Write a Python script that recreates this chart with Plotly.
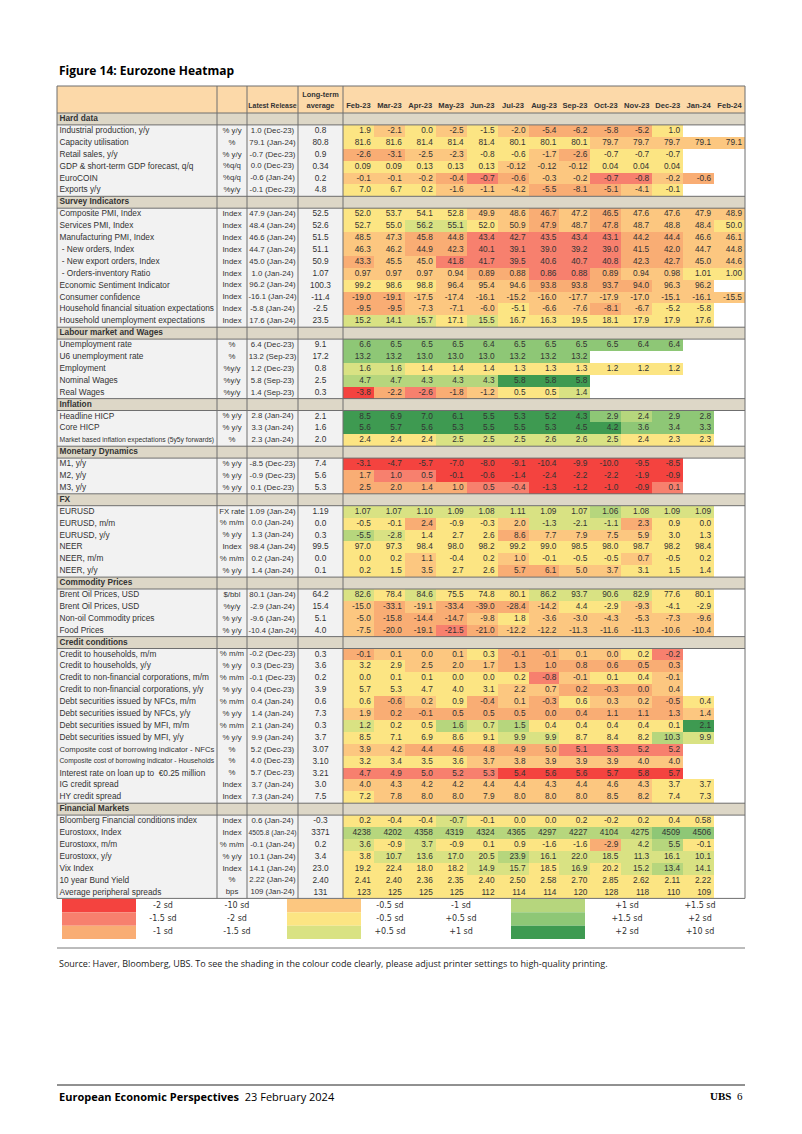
import plotly.graph_objects as go

# ---------------- DATA ----------------
months = ["Feb-23", "Mar-23", "Apr-23", "May-23", "Jun-23", "Jul-23", "Aug-23",
          "Sep-23", "Oct-23", "Nov-23", "Dec-23", "Jan-24", "Feb-24"]

sections = ["Hard data", "Survey Indicators", "Labour market and Wages", "Inflation",
            "Monetary Dynamics", "FX", "Commodity Prices", "Credit conditions", "Financial Markets"]
section_sizes = [6, 10, 5, 3, 3, 6, 4, 13, 7]

row_labels = [
    "Industrial production, y/y", "Capacity utilisation", "Retail sales, y/y",
    "GDP & short-term GDP forecast, q/q", "EuroCOIN", "Exports y/y",
    "Composite PMI, Index", "Services PMI, Index", "Manufacturing PMI, Index",
    " - New orders, Index", " - New export orders, Index", " - Orders-inventory Ratio",
    "Economic Sentiment Indicator", "Consumer confidence",
    "Household financial situation expectations", "Household unemployment expectations",
    "Unemployment rate", "U6 unemployment rate", "Employment", "Nominal Wages", "Real Wages",
    "Headline HICP", "Core HICP", "Market based inflation expectations (5y5y forwards)",
    "M1, y/y", "M2, y/y", "M3, y/y",
    "EURUSD", "EURUSD, m/m", "EURUSD, y/y", "NEER", "NEER, m/m", "NEER, y/y",
    "Brent Oil Prices, USD", "Brent Oil Prices, USD", "Non-oil Commodity prices", "Food Prices",
    "Credit to households, m/m", "Credit to households, y/y",
    "Credit to non-financial corporations, m/m", "Credit to non-financial corporations, y/y",
    "Debt securities issued by NFCs, m/m", "Debt securities issued by NFCs, y/y",
    "Debt securities issued by MFI, m/m", "Debt securities issued by MFI, y/y",
    "Composite cost of borrowing indicator - NFCs",
    "Composite cost of borrowing indicator - Households",
    "Interest rate on loan up to  €0.25 million", "IG credit spread", "HY credit spread",
    "Bloomberg Financial conditions index", "Eurostoxx, Index", "Eurostoxx, m/m",
    "Eurostoxx, y/y", "Vix Index", "10 year Bund Yield", "Average peripheral spreads",
]

units = [
    "% y/y", "%", "% y/y", "%q/q", "%q/q", "%y/y",
    "Index", "Index", "Index", "Index", "Index", "Index", "Index", "Index", "Index", "Index",
    "%", "%", "%y/y", "%y/y", "%y/y",
    "% y/y", "% y/y", "%",
    "% y/y", "% y/y", "% y/y",
    "FX rate", "% m/m", "% y/y", "Index", "% m/m", "% y/y",
    "$/bbl", "%y/y", "% y/y", "% y/y",
    "% m/m", "% y/y", "% m/m", "% y/y", "% m/m", "% y/y", "% m/m", "% y/y",
    "%", "%", "%", "Index", "Index",
    "Index", "Index", "% m/m", "% y/y", "Index", "%", "bps",
]

latest_release = [
    "1.0 (Dec-23)", "79.1 (Jan-24)", "-0.7 (Dec-23)", "0.0 (Dec-23)", "-0.6 (Jan-24)", "-0.1 (Dec-23)",
    "47.9 (Jan-24)", "48.4 (Jan-24)", "46.6 (Jan-24)", "44.7 (Jan-24)", "45.0 (Jan-24)", "1.0 (Jan-24)",
    "96.2 (Jan-24)", "-16.1 (Jan-24)", "-5.8 (Jan-24)", "17.6 (Jan-24)",
    "6.4 (Dec-23)", "13.2 (Sep-23)", "1.2 (Dec-23)", "5.8 (Sep-23)", "1.4 (Sep-23)",
    "2.8 (Jan-24)", "3.3 (Jan-24)", "2.3 (Jan-24)",
    "-8.5 (Dec-23)", "-0.9 (Dec-23)", "0.1 (Dec-23)",
    "1.09 (Jan-24)", "0.0 (Jan-24)", "1.3 (Jan-24)", "98.4 (Jan-24)", "0.2 (Jan-24)", "1.4 (Jan-24)",
    "80.1 (Jan-24)", "-2.9 (Jan-24)", "-9.6 (Jan-24)", "-10.4 (Jan-24)",
    "-0.2 (Dec-23)", "0.3 (Dec-23)", "-0.1 (Dec-23)", "0.4 (Dec-23)", "0.4 (Jan-24)", "1.4 (Jan-24)",
    "2.1 (Jan-24)", "9.9 (Jan-24)", "5.2 (Dec-23)", "4.0 (Dec-23)", "5.7 (Dec-23)",
    "3.7 (Jan-24)", "7.3 (Jan-24)",
    "0.6 (Jan-24)", "4505.8 (Jan-24)", "-0.1 (Jan-24)", "10.1 (Jan-24)", "14.1 (Jan-24)",
    "2.22 (Jan-24)", "109 (Jan-24)",
]

long_term_average = [
    "0.8", "80.8", "0.9", "0.34", "0.2", "4.8",
    "52.5", "52.6", "51.5", "51.1", "50.9", "1.07", "100.3", "-11.4", "-2.5", "23.5",
    "9.1", "17.2", "0.8", "2.5", "0.3",
    "2.1", "1.6", "2.0",
    "7.4", "5.6", "5.3",
    "1.19", "0.0", "0.3", "99.5", "0.0", "0.1",
    "64.2", "15.4", "5.1", "4.0",
    "0.3", "3.6", "0.2", "3.9", "0.6", "7.3", "0.3", "3.7", "3.07", "3.10", "3.21", "3.0", "7.5",
    "-0.3", "3371", "0.2", "3.4", "23.0", "2.40", "131",
]

# decimals shown for each data row
decimals = [1, 1, 1, 2, 1, 1,
            1, 1, 1, 1, 1, 2, 1, 1, 1, 1,
            1, 1, 1, 1, 1,
            1, 1, 1,
            1, 1, 1,
            2, 1, 1, 1, 1, 1,
            1, 1, 1, 1,
            1, 1, 1, 1, 1, 1, 1, 1, 1, 1, 1, 1, 1,
            1, 0, 1, 1, 1, 2, 0]

hard_data_values = [
    [1.9, -2.1, 0.0, -2.5, -1.5, -2.0, -5.4, -6.2, -5.8, -5.2, 1.0],
    [81.6, 81.6, 81.4, 81.4, 81.4, 80.1, 80.1, 80.1, 79.7, 79.7, 79.7, 79.1, 79.1],
    [-2.6, -3.1, -2.5, -2.3, -0.8, -0.6, -1.7, -2.6, -0.7, -0.7, -0.7],
    [0.09, 0.09, 0.13, 0.13, 0.13, -0.12, -0.12, -0.12, 0.04, 0.04, 0.04],
    [-0.1, -0.1, -0.2, -0.4, -0.7, -0.6, -0.3, -0.2, -0.7, -0.8, -0.2, -0.6],
    [7.0, 6.7, 0.2, -1.6, -1.1, -4.2, -5.5, -8.1, -5.1, -4.1, -0.1],
]
survey_values = [
    [52.0, 53.7, 54.1, 52.8, 49.9, 48.6, 46.7, 47.2, 46.5, 47.6, 47.6, 47.9, 48.9],
    [52.7, 55.0, 56.2, 55.1, 52.0, 50.9, 47.9, 48.7, 47.8, 48.7, 48.8, 48.4, 50.0],
    [48.5, 47.3, 45.8, 44.8, 43.4, 42.7, 43.5, 43.4, 43.1, 44.2, 44.4, 46.6, 46.1],
    [46.3, 46.2, 44.9, 42.3, 40.1, 39.1, 39.0, 39.2, 39.0, 41.5, 42.0, 44.7, 44.8],
    [43.3, 45.5, 45.0, 41.8, 41.7, 39.5, 40.6, 40.7, 40.8, 42.3, 42.7, 45.0, 44.6],
    [0.97, 0.97, 0.97, 0.94, 0.89, 0.88, 0.86, 0.88, 0.89, 0.94, 0.98, 1.01, 1.00],
    [99.2, 98.6, 98.8, 96.4, 95.4, 94.6, 93.8, 93.8, 93.7, 94.0, 96.3, 96.2],
    [-19.0, -19.1, -17.5, -17.4, -16.1, -15.2, -16.0, -17.7, -17.9, -17.0, -15.1, -16.1, -15.5],
    [-9.5, -9.5, -7.3, -7.1, -6.0, -5.1, -6.6, -7.6, -8.1, -6.7, -5.2, -5.8],
    [15.2, 14.1, 15.7, 17.1, 15.5, 16.7, 16.3, 19.5, 18.1, 17.9, 17.9, 17.6],
]
labour_values = [
    [6.6, 6.5, 6.5, 6.5, 6.4, 6.5, 6.5, 6.5, 6.5, 6.4, 6.4],
    [13.2, 13.2, 13.0, 13.0, 13.0, 13.2, 13.2, 13.2],
    [1.6, 1.6, 1.4, 1.4, 1.4, 1.3, 1.3, 1.3, 1.2, 1.2, 1.2],
    [4.7, 4.7, 4.3, 4.3, 4.3, 5.8, 5.8, 5.8],
    [-3.8, -2.2, -2.6, -1.8, -1.2, 0.5, 0.5, 1.4],
]
inflation_values = [
    [8.5, 6.9, 7.0, 6.1, 5.5, 5.3, 5.2, 4.3, 2.9, 2.4, 2.9, 2.8],
    [5.6, 5.7, 5.6, 5.3, 5.5, 5.5, 5.3, 4.5, 4.2, 3.6, 3.4, 3.3],
    [2.4, 2.4, 2.4, 2.5, 2.5, 2.5, 2.6, 2.6, 2.5, 2.4, 2.3, 2.3],
]
monetary_values = [
    [-3.1, -4.7, -5.7, -7.0, -8.0, -9.1, -10.4, -9.9, -10.0, -9.5, -8.5],
    [1.7, 1.0, 0.5, -0.1, -0.6, -1.4, -2.4, -2.2, -2.2, -1.9, -0.9],
    [2.5, 2.0, 1.4, 1.0, 0.5, -0.4, -1.3, -1.2, -1.0, -0.9, 0.1],
]
fx_values = [
    [1.07, 1.07, 1.10, 1.09, 1.08, 1.11, 1.09, 1.07, 1.06, 1.08, 1.09, 1.09],
    [-0.5, -0.1, 2.4, -0.9, -0.3, 2.0, -1.3, -2.1, -1.1, 2.3, 0.9, 0.0],
    [-5.5, -2.8, 1.4, 2.7, 2.6, 8.6, 7.7, 7.9, 7.5, 5.9, 3.0, 1.3],
    [97.0, 97.3, 98.4, 98.0, 98.2, 99.2, 99.0, 98.5, 98.0, 98.7, 98.2, 98.4],
    [0.0, 0.2, 1.1, -0.4, 0.2, 1.0, -0.1, -0.5, -0.5, 0.7, -0.5, 0.2],
    [0.2, 1.5, 3.5, 2.7, 2.6, 5.7, 6.1, 5.0, 3.7, 3.1, 1.5, 1.4],
]
commodity_values = [
    [82.6, 78.4, 84.6, 75.5, 74.8, 80.1, 86.2, 93.7, 90.6, 82.9, 77.6, 80.1],
    [-15.0, -33.1, -19.1, -33.4, -39.0, -28.4, -14.2, 4.4, -2.9, -9.3, -4.1, -2.9],
    [-5.0, -15.8, -14.4, -14.7, -9.8, 1.8, -3.6, -3.0, -4.3, -5.3, -7.3, -9.6],
    [-7.5, -20.0, -19.1, -21.5, -21.0, -12.2, -12.2, -11.3, -11.6, -11.3, -10.6, -10.4],
]
credit_values = [
    [-0.1, 0.1, 0.0, 0.1, 0.3, -0.1, -0.1, 0.1, 0.0, 0.2, -0.2],
    [3.2, 2.9, 2.5, 2.0, 1.7, 1.3, 1.0, 0.8, 0.6, 0.5, 0.3],
    [0.0, 0.1, 0.1, 0.0, 0.0, 0.2, -0.8, -0.1, 0.1, 0.4, -0.1],
    [5.7, 5.3, 4.7, 4.0, 3.1, 2.2, 0.7, 0.2, -0.3, 0.0, 0.4],
    [0.6, -0.6, 0.2, 0.9, -0.4, 0.1, -0.3, 0.6, 0.3, 0.2, -0.5, 0.4],
    [1.9, 0.2, -0.1, 0.5, 0.5, 0.5, 0.0, 0.4, 1.1, 1.1, 1.3, 1.4],
    [1.2, 0.2, 0.5, 1.6, 0.7, 1.5, 0.4, 0.4, 0.4, 0.4, 0.1, 2.1],
    [8.5, 7.1, 6.9, 8.6, 9.1, 9.9, 9.9, 8.7, 8.4, 8.2, 10.3, 9.9],
    [3.9, 4.2, 4.4, 4.6, 4.8, 4.9, 5.0, 5.1, 5.3, 5.2, 5.2],
    [3.2, 3.4, 3.5, 3.6, 3.7, 3.8, 3.9, 3.9, 3.9, 4.0, 4.0],
    [4.7, 4.9, 5.0, 5.2, 5.3, 5.4, 5.6, 5.6, 5.7, 5.8, 5.7],
    [4.0, 4.3, 4.2, 4.2, 4.4, 4.4, 4.3, 4.4, 4.6, 4.3, 3.7, 3.7],
    [7.2, 7.8, 8.0, 8.0, 7.9, 8.0, 8.0, 8.0, 8.5, 8.2, 7.4, 7.3],
]
financial_values = [
    [0.2, -0.4, -0.4, -0.7, -0.1, 0.0, 0.0, 0.2, -0.2, 0.2, 0.4, 0.58],
    [4238, 4202, 4358, 4319, 4324, 4365, 4297, 4227, 4104, 4275, 4509, 4506],
    [3.6, -0.9, 3.7, -0.9, 0.1, 0.9, -1.6, -1.6, -2.9, 4.2, 5.5, -0.1],
    [3.8, 10.7, 13.6, 17.0, 20.5, 23.9, 16.1, 22.0, 18.5, 11.3, 16.1, 10.1],
    [19.2, 22.4, 18.0, 18.2, 14.9, 15.7, 18.5, 16.9, 20.2, 15.2, 13.4, 14.1],
    [2.41, 2.40, 2.36, 2.35, 2.40, 2.50, 2.58, 2.70, 2.85, 2.62, 2.11, 2.22],
    [123, 125, 125, 125, 112, 114, 114, 120, 128, 118, 110, 109],
]

# shading class for each cell (R=-2sd .. D=+2sd)
hard_data_shades = ["YPYPYPOOOOY", "YYYYYYYYPPPPP", "OOPPYYPOYYY", "YYYYYPPPYYY",
                    "PPPOSOPPSSPO", "YYYPPPOOOPY"]
survey_shades = ["YYYYPPOPOPPPP", "YYLLYPOPOPPPY", "PPOOSSSSSOOPP", "PPOOSSSSSOOPP",
                 "OPPSSSSSSOOPP", "PPPPOOSSOPPYY", "YYYPPPOOOOPP", "OOPPPPPPPPPPP",
                 "OOPPPYPPOPYY", "LLLYLYYYYYYY"]
labour_shades = ["MMMMMMMMMMM", "MMMMMMMM", "LLYYYYYYYYY", "GGGGGDDD", "ROSOPYYL"]
inflation_shades = ["DDDDDDDDMGMM", "DDDDDDDDDMMM", "YYYLLLLLLYYY"]
monetary_shades = ["RRRRRRRRRRR", "OSSRRRRRRRR", "OOOOSSRRRRS"]
fx_shades = ["LLLLLLLLGLLL", "YYOYYPLLLOYY", "GLYYYOPPPPYY", "YYYYYYYYYYYY",
             "YYPYYPYYYPYY", "YYPYYOOPPYYY"]
commodity_shades = ["LYLYYYLLLLYY", "POPOOOPYYPYY", "POOOPYPPPPPP", "POOSOPPPPPPP"]
credit_shades = ["OPPPYOOPPYS", "YYPPPOOOOOO", "YYYYYYSPYYP", "YYYYYPPOOOP",
                 "YOPYOPOYPPOY", "POOOOOOOOOOP", "LYYGLGYYYYYD", "YYYYYLLYYYGL",
                 "PPOOOOOSSSS", "YYYYPPPPPPP", "SSSSSRRRRRR", "PPPPPPPPPPYY",
                 "YPPPPPPPPPYY"]
financial_shades = ["YYYLYYYYYYYY", "GGGGGGGGGGMM", "LYLYYYYYOLGY", "YLLLLGLLLLLL",
                    "YYYYLLYLYLGL", "YYYYYYYYYYYY", "YYYYYYYYYYYY"]

legend_left_labels = [["-2 sd", "-10 sd"], ["-1.5 sd", "-2 sd"], ["-1 sd", "-1.5 sd"]]
legend_mid_labels = [["-0.5 sd", "-1 sd"], ["-0.5 sd", "+0.5 sd"], ["+0.5 sd", "+1 sd"]]
legend_right_labels = [["+1 sd", "+1.5 sd"], ["+1.5 sd", "+2 sd"], ["+2 sd", "+10 sd"]]

# ---------------- STYLE ----------------
shade_colors = {
    "R": "#f4433f", "S": "#f7806e", "O": "#f9ad74", "P": "#fcc780", "Y": "#fce583",
    "L": "#d9e283", "G": "#b6d67d", "M": "#8ec776", "D": "#3e9a51",
}
shade_order = ["R", "S", "O", "P", "Y", "L", "G", "M", "D"]
WHITE, LABEL_BG, SECTION_BG, HEADER_BG = "#ffffff", "#f2f2f2", "#ddd7c7", "#fcd9a9"
palette = [WHITE] + [shade_colors[k] for k in shade_order] + [LABEL_BG, SECTION_BG, HEADER_BG]
code_of = {k: i + 1 for i, k in enumerate(shade_order)}
N_CODES = len(palette)
colorscale = []
for i, c in enumerate(palette):
    colorscale.append([i / N_CODES, c])
    colorscale.append([(i + 1) / N_CODES, c])

TABLE_FONT = "Liberation Sans, Arial, sans-serif"
TEXT_COLOR = "#333333"
FS = 8.3

# Arial / Liberation Sans advance widths (per 1000 em) for fitting text into cells
_W = {" ": 278, "%": 889, "&": 667, "(": 333, ")": 333, ",": 278, "-": 333, ".": 278, "/": 278,
      ":": 278, "$": 556, "€": 556}
for ch in "0123456789":
    _W[ch] = 556
_W.update(dict(zip("ABCDEFGHIJKLMNOPQRSTUVWXYZ",
                   [667, 667, 722, 722, 667, 611, 778, 722, 278, 500, 667, 556, 833, 722, 778,
                    667, 778, 722, 667, 611, 722, 667, 944, 667, 667, 611])))
_W.update(dict(zip("abcdefghijklmnopqrstuvwxyz",
                   [556, 556, 500, 556, 556, 278, 556, 556, 222, 222, 500, 222, 833, 556, 556,
                    556, 556, 333, 500, 278, 556, 500, 722, 500, 500, 500])))


def text_width(text, size):
    return sum(_W.get(ch, 556) for ch in text) * size / 1000.0


def fit_size(text, width, base):
    w = text_width(text, 1.0)
    return min(base, width / w) if w > 0 else base


# page geometry (pixels); the page body has an 8px margin
OFF = 8
W, H = 802, 1134
left_edges = [57, 217, 247, 298, 343]
TABLE_RIGHT = 745
MW = (TABLE_RIGHT - left_edges[-1]) / len(months)
month_edges = [left_edges[-1] + i * MW for i in range(len(months) + 1)]
x_edges = left_edges + month_edges[1:]
HEADER_TOP, ROW_TOP, ROW_H = 86, 113, 11.9

all_values = (hard_data_values + survey_values + labour_values + inflation_values +
              monetary_values + fx_values + commodity_values + credit_values + financial_values)
all_shades = (hard_data_shades + survey_shades + labour_shades + inflation_shades +
              monetary_shades + fx_shades + commodity_shades + credit_shades + financial_shades)

# row layout
rows = []
k = 0
for s, n in zip(sections, section_sizes):
    rows.append(("section", s))
    for _ in range(n):
        rows.append(("data", k))
        k += 1
n_rows = len(rows)
y_edges = [HEADER_TOP, ROW_TOP] + [ROW_TOP + (i + 1) * ROW_H for i in range(n_rows)]
TABLE_BOTTOM = y_edges[-1]
row_center = [ROW_TOP + (i + 0.5) * ROW_H for i in range(n_rows)]

# z grid
n_cols = len(x_edges) - 1
z = [[N_CODES - 1] * n_cols]
for kind, ref in rows:
    if kind == "section":
        z.append([N_CODES - 2] * n_cols)
    else:
        line = [N_CODES - 3] * 4
        sh = all_shades[ref]
        for j in range(len(months)):
            line.append(code_of[sh[j]] if j < len(all_values[ref]) else 0)
        z.append(line)

fig = go.Figure()
fig.add_trace(go.Heatmap(
    x=x_edges, y=y_edges, z=z, colorscale=colorscale, zmin=-0.5, zmax=N_CODES - 0.5,
    showscale=False, hoverinfo="skip"))


def fmt(v, d):
    s = f"{v:.{d}f}"
    if abs(float(s) - v) > 1e-9:
        s = f"{v}"
    return s


def text_trace(xs, ys, texts, pos, sizes, family=TABLE_FONT, color=TEXT_COLOR):
    return go.Scatter(x=xs, y=ys, text=texts, mode="text", textposition=pos,
                      textfont=dict(family=family, size=sizes, color=color),
                      hoverinfo="skip", showlegend=False, cliponaxis=False)


# left text columns
col_base = {1: 7.8, 2: 7.8, 3: FS}
lab_x, lab_y, lab_t, lab_s = [], [], [], []
col_pts = {1: ([], [], [], []), 2: ([], [], [], []), 3: ([], [], [], [])}
for i, (kind, ref) in enumerate(rows):
    yc = row_center[i]
    lab_x.append(left_edges[0] + 2.5)
    lab_y.append(yc)
    if kind == "section":
        lab_t.append(f"<b>{ref}</b>")
        lab_s.append(FS)
    else:
        lab_t.append(row_labels[ref])
        lab_s.append(fit_size(row_labels[ref], left_edges[1] - left_edges[0] - 5, FS))
        for col, arr in ((1, units), (2, latest_release), (3, long_term_average)):
            px_, py_, pt_, ps_ = col_pts[col]
            px_.append((left_edges[col] + left_edges[col + 1]) / 2)
            py_.append(yc)
            pt_.append(arr[ref])
            ps_.append(fit_size(arr[ref], left_edges[col + 1] - left_edges[col] - 3, col_base[col]))

fig.add_trace(text_trace(lab_x, lab_y, lab_t, "middle right", lab_s))
for col in (1, 2, 3):
    px_, py_, pt_, ps_ = col_pts[col]
    fig.add_trace(text_trace(px_, py_, pt_, "middle center", ps_))

# month values
v_x, v_y, v_t = [], [], []
for i, (kind, ref) in enumerate(rows):
    if kind != "data":
        continue
    for j, v in enumerate(all_values[ref]):
        v_x.append(month_edges[j + 1] - 3)
        v_y.append(row_center[i])
        v_t.append(fmt(v, decimals[ref]))
fig.add_trace(text_trace(v_x, v_y, v_t, "middle left", FS))

# header
hdr_y = ROW_TOP - 6.5
fig.add_trace(text_trace([(month_edges[j] + month_edges[j + 1]) / 2 for j in range(len(months))],
                         [hdr_y] * len(months), [f"<b>{m}</b>" for m in months],
                         "middle center", 7.6))
fig.add_trace(text_trace([(left_edges[2] + left_edges[3]) / 2], [hdr_y], ["<b>Latest Release</b>"],
                         "middle center", 6.9))
fig.add_trace(text_trace([(left_edges[3] + left_edges[4]) / 2] * 2, [hdr_y, hdr_y - 11.5],
                         ["<b>average</b>", "<b>Long-term</b>"], "middle center", 7.4))

# grid lines
LINE = dict(color="#6f6f6f", width=1)
shapes = []
for xe in left_edges[1:]:
    shapes.append(dict(type="line", xref="x", yref="y", x0=xe, x1=xe, y0=HEADER_TOP, y1=TABLE_BOTTOM, line=LINE))
shapes.append(dict(type="rect", xref="x", yref="y", x0=left_edges[0], x1=TABLE_RIGHT,
                   y0=HEADER_TOP, y1=TABLE_BOTTOM, line=LINE))
for i, (kind, ref) in enumerate(rows):
    if kind == "section":
        for ye in (y_edges[i + 1], y_edges[i + 2]):
            shapes.append(dict(type="line", xref="x", yref="y", x0=left_edges[0], x1=TABLE_RIGHT,
                               y0=ye, y1=ye, line=LINE))

# legend
LEG_TOP, LEG_H = TABLE_BOTTOM, 13.4
leg_boxes = [(62, 136), (287, 361), (511, 585)]
leg_text_x = [(163, 237), (390, 461), (627, 700)]
leg_cols = [["R", "S", "O"], ["P", "Y", "L"], ["G", "M", "D"]]
leg_labels = [legend_left_labels, legend_mid_labels, legend_right_labels]
lx, ly, lt = [], [], []
for c in range(3):
    for r in range(3):
        y0 = LEG_TOP + r * LEG_H
        shapes.append(dict(type="rect", xref="x", yref="y", x0=leg_boxes[c][0], x1=leg_boxes[c][1],
                           y0=y0 + 0.5, y1=y0 + LEG_H + 0.5, line=dict(width=0),
                           fillcolor=shade_colors[leg_cols[c][r]], layer="below"))
        for t in range(2):
            lx.append(leg_text_x[c][t]); ly.append(y0 + LEG_H / 2 + 0.5); lt.append(leg_labels[c][r][t])
fig.add_trace(text_trace(lx, ly, lt, "middle center", 8, family="DejaVu Sans, sans-serif"))

# rules
shapes.append(dict(type="line", xref="x", yref="y", x0=57, x1=745, y0=948, y1=948,
                   line=dict(color="#555555", width=0.8)))
shapes.append(dict(type="line", xref="x", yref="y", x0=57, x1=745, y0=1085, y1=1085,
                   line=dict(color="#222222", width=1)))

annotations = [
    dict(x=57, y=70, xref="x", yref="y", xanchor="left", yanchor="middle", showarrow=False,
         text="<b>Figure 14: Eurozone Heatmap</b>",
         font=dict(family="Open Sans, Noto Sans, sans-serif", size=12, color="#000000")),
    dict(x=57, y=963, xref="x", yref="y", xanchor="left", yanchor="middle", showarrow=False,
         text="Source: Haver, Bloomberg, UBS. To see the shading in the colour code clearly, please adjust printer settings to high-quality printing.",
         font=dict(family="Open Sans, Noto Sans, sans-serif", size=9, color="#222222")),
    dict(x=57, y=1096, xref="x", yref="y", xanchor="left", yanchor="middle", showarrow=False,
         text="<b>European Economic Perspectives</b>  23 February 2024",
         font=dict(family="Open Sans, Noto Sans, sans-serif", size=11, color="#000000")),
    dict(x=745, y=1096, xref="x", yref="y", xanchor="right", yanchor="middle", showarrow=False,
         text="<b>UBS</b>  6",
         font=dict(family="Liberation Serif, serif", size=11, color="#000000")),
]

fig.update_layout(
    width=W, height=H, margin=dict(l=0, r=0, t=0, b=0),
    paper_bgcolor="white", plot_bgcolor="white", showlegend=False,
    xaxis=dict(range=[OFF, W + OFF], visible=False, fixedrange=True),
    yaxis=dict(range=[H + OFF, OFF], visible=False, fixedrange=True),
    shapes=shapes, annotations=annotations,
)

fig.write_html("out.html")
